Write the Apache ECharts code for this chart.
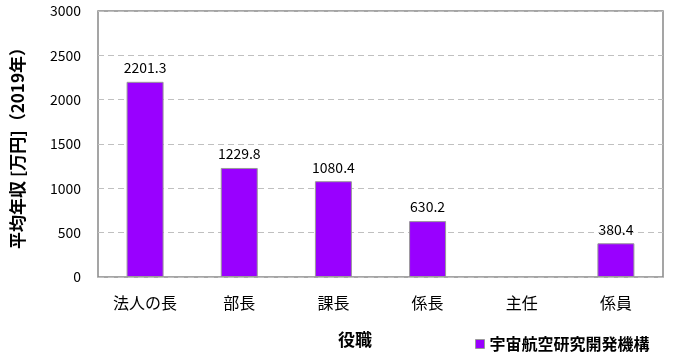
<!DOCTYPE html>
<html>
<head>
<meta charset="utf-8">
<script src="https://cdn.jsdelivr.net/npm/echarts@6/dist/echarts.min.js"></script>
<style>html,body{margin:0;padding:0;background:#fff;}#c{width:684px;height:363px;}</style>
</head>
<body>
<div id="c"></div>
<script>
const categories = ['法人の長', '部長', '課長', '係長', '主任', '係員'];
const values = [2201.3, 1229.8, 1080.4, 630.2, null, 380.4];
const seriesName = '宇宙航空研究開発機構';
const yTicks = [0, 500, 1000, 1500, 2000, 2500, 3000];

const font = '"Noto Sans CJK JP", "Noto Sans", sans-serif';
const chart = echarts.init(document.getElementById('c'));
chart.setOption({
  animation: false,
  textStyle: { fontFamily: font },
  grid: { left: 98, right: 21, top: 11, bottom: 86, show: true, borderColor: '#888', borderWidth: 1.5, backgroundColor: '#fff' },
  legend: {
    data: [seriesName], left: 470, top: 331, icon: 'rect', itemWidth: 9, itemHeight: 9, itemGap: 5,
    itemStyle: { borderColor: '#999', borderWidth: 1 },
    textStyle: { fontFamily: font, fontSize: 16, fontWeight: 'bold', color: '#000' }
  },
  xAxis: {
    type: 'category', data: categories,
    axisLine: { show: false }, axisTick: { show: false },
    axisLabel: { color: '#000', fontSize: 16, margin: 18, fontFamily: font }
  },
  yAxis: {
    type: 'value', min: yTicks[0], max: yTicks[yTicks.length - 1], interval: 500,
    name: '平均年収 [万円]（2019年）', nameLocation: 'middle', nameRotate: 90, nameGap: 72,
    nameTextStyle: { fontSize: 17, fontWeight: 'bold', color: '#000', fontFamily: font },
    axisLine: { show: false }, axisTick: { show: false },
    axisLabel: { color: '#000', fontSize: 14, margin: 17, fontFamily: font, formatter: v => String(v) },
    splitLine: { lineStyle: { color: '#c0c0c0', type: [6, 4], width: 1 } }
  },
  graphic: [{
    type: 'text', left: 338, top: 331,
    style: { text: '役職', fontSize: 17, fontWeight: 'bold', fill: '#000', fontFamily: font }
  }],
  series: [{
    name: seriesName, type: 'bar', data: values, barWidth: 37,
    itemStyle: { color: '#9900ff', borderColor: '#999', borderWidth: 1 },
    label: { show: true, position: 'top', distance: 7, color: '#000', fontSize: 14, fontFamily: font, formatter: p => p.value.toFixed(1) }
  }]
});
</script>
</body>
</html>
